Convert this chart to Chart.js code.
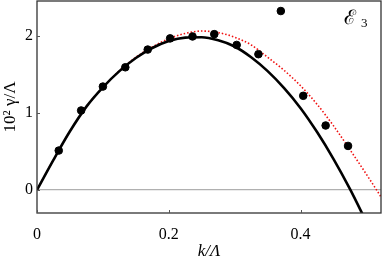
<!DOCTYPE html>
<html>
<head>
<meta charset="utf-8">
<script src="https://cdn.jsdelivr.net/npm/chart.js@4/dist/chart.umd.min.js"></script>
<style>
  html, body { margin: 0; padding: 0; background: #fff; overflow: hidden; }
  #wrap { width: 382px; height: 262px; }
</style>
</head>
<body>
<div id="wrap"><canvas id="growthChart"></canvas></div>
<script>
// simulation points (k/Λ, 10^2 γ/Λ)
const simK = [0.033, 0.067, 0.1, 0.134, 0.168, 0.202, 0.236, 0.269, 0.303, 0.336, 0.37, 0.404, 0.438, 0.472];
const simGamma = [0.51, 1.03, 1.34, 1.59, 1.82, 1.965, 1.99, 2.02, 1.88, 1.76, 2.32, 1.22, 0.835, 0.57];

// theory curves
const curveK = [0, 0.025, 0.05, 0.075, 0.1, 0.125, 0.15, 0.175, 0.2, 0.225, 0.25, 0.275, 0.3, 0.325, 0.35, 0.375, 0.4, 0.425, 0.45, 0.475, 0.5, 0.525];
const solidGamma = [0, 0.39, 0.76, 1.08, 1.33, 1.54, 1.71, 1.84, 1.93, 1.975, 1.98, 1.94, 1.86, 1.72, 1.54, 1.32, 1.06, 0.75, 0.40, 0.01, -0.42, -0.85];
const dottedGamma = [0, 0.39, 0.76, 1.08, 1.33, 1.545, 1.72, 1.855, 1.96, 2.03, 2.06, 2.04, 1.98, 1.88, 1.72, 1.55, 1.35, 1.11, 0.83, 0.52, 0.20, -0.13];

// tick values
const xTicks = [0, 0.2, 0.4];
const yTicks = [0, 1, 2];

const toPoints = (xs, ys) => xs.map((x, i) => ({ x: x, y: ys[i] }));

const serif = '"Liberation Serif", "DejaVu Serif", serif';

// frame, inward ticks and the panel label
const framePlugin = {
  id: 'frame',
  afterDraw(chart) {
    const c = chart.ctx;
    const a = chart.chartArea;
    const xs = chart.scales.x, ys = chart.scales.y;
    c.save();
    c.strokeStyle = '#333';
    c.lineWidth = 1.3;
    c.strokeRect(a.left, a.top, a.right - a.left, a.bottom - a.top);
    c.lineWidth = 1;
    c.strokeStyle = '#555';
    xTicks.forEach(v => {
      const px = Math.round(xs.getPixelForValue(v)) + 0.5;
      c.beginPath(); c.moveTo(px, a.bottom); c.lineTo(px, a.bottom - 3); c.stroke();
    });
    yTicks.forEach(v => {
      const py = Math.round(ys.getPixelForValue(v)) + 0.5;
      c.beginPath(); c.moveTo(a.left, py); c.lineTo(a.left + 3, py); c.stroke();
    });
    c.fillStyle = '#000';
    c.textBaseline = 'alphabetic';
    c.font = '20px "DejaVu Serif", serif';
    c.fillText('ℰ', 344, 24);
    c.font = '13px ' + serif;
    c.fillText('3', 361, 27);
    c.restore();
  }
};

new Chart(document.getElementById('growthChart'), {
  type: 'scatter',
  data: {
    datasets: [
      {
        label: 'simulation',
        data: toPoints(simK, simGamma),
        backgroundColor: '#000',
        borderColor: '#000',
        pointRadius: 3.8,
        pointHoverRadius: 3.8
      },
      {
        label: 'solid',
        data: toPoints(curveK, solidGamma),
        showLine: true,
        borderColor: '#000',
        borderWidth: 2.6,
        pointRadius: 0,
        clip: 0,
        cubicInterpolationMode: 'monotone'
      },
      {
        label: 'dotted',
        data: toPoints(curveK, dottedGamma),
        showLine: true,
        borderColor: '#f01010',
        borderWidth: 1.6,
        borderDash: [1.5, 2],
        pointRadius: 0,
        clip: 0,
        cubicInterpolationMode: 'monotone'
      }
    ]
  },
  options: {
    responsive: true,
    maintainAspectRatio: false,
    animation: false,
    layout: { autoPadding: false, padding: { top: 1, right: 1, left: 0, bottom: 0 } },
    plugins: { legend: { display: false }, tooltip: { enabled: false } },
    scales: {
      x: {
        type: 'linear',
        min: 0,
        max: 0.522,
        afterFit: s => { s.height = 49; s.paddingLeft = 0; s.paddingRight = 0; },
        afterBuildTicks: s => { s.ticks = xTicks.map(v => ({ value: v })); },
        ticks: {
          color: '#000',
          padding: 4,
          font: { family: serif, size: 16 },
          callback: v => String(v)
        },
        grid: { display: false },
        border: { display: false },
        title: {
          display: true,
          text: 'k/Λ',
          color: '#000',
          font: { family: serif, size: 17, style: 'italic' },
          padding: { top: 0, bottom: 0 }
        }
      },
      y: {
        type: 'linear',
        min: -0.3,
        max: 2.45,
        afterFit: s => { s.width = 37; s.paddingTop = 0; s.paddingBottom = 0; },
        afterBuildTicks: s => { s.ticks = yTicks.map(v => ({ value: v })); },
        ticks: {
          color: '#000',
          padding: 4,
          font: { family: serif, size: 16 },
          callback: v => String(v)
        },
        grid: {
          drawTicks: false,
          color: c => (c.tick && c.tick.value === 0 ? '#b0b0b0' : 'rgba(0,0,0,0)'),
          lineWidth: 1.3
        },
        border: { display: false },
        title: {
          display: true,
          text: '10² γ/Λ',
          color: '#000',
          font: { family: serif, size: 17 },
          padding: { top: 0, bottom: 1 }
        }
      }
    }
  },
  plugins: [framePlugin]
});
</script>
</body>
</html>
